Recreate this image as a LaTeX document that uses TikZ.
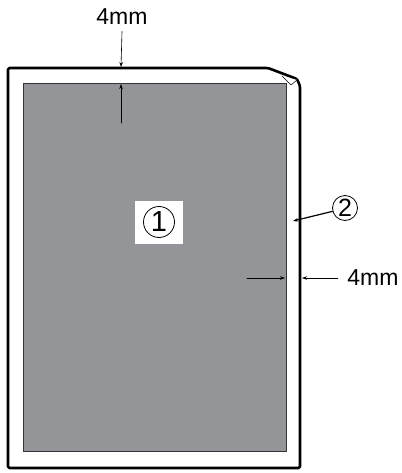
\documentclass[tikz,border=0pt]{standalone}
\usepackage{fontspec}
\setmainfont{Liberation Sans}
\usetikzlibrary{arrows.meta}
\definecolor{areagray}{rgb}{0.58,0.584,0.596}
\definecolor{edgegray}{rgb}{0.2,0.2,0.2}

\begin{document}
\begin{tikzpicture}[line cap=round,line join=round,x=1pt,y=-1pt,>={Stealth[length=5pt,width=3.5pt]}]
\useasboundingbox (0,0) rectangle (401,473);
% printable area
\draw [fill=areagray,draw=edgegray,line width=0.9pt] (23,83) rectangle (286,451);
% sheet with folded corner
\draw [line width=2.6pt,rounded corners=1.5pt] (8,68) -- (268,68) -- (297,79) -- (300,86) -- (300,468) -- (8,468) -- cycle;
\draw [fill=white,line width=0.5pt] (282,76) -- (291,85) -- (297,80);
% named points on the edges
\coordinate (sheettop) at (121,67);
\coordinate (areatop) at (121,84);
\coordinate (sheetright) at (302,278);
\coordinate (arearight) at (285,278);
\coordinate (gap) at (293,221);
% labels
\node (topmm) at (122,17) {\fontsize{23}{26}\selectfont 4mm};
\node (rightmm) at (373,278) {\fontsize{23}{26}\selectfont 4mm};
\node [fill=white,minimum width=48,minimum height=43] (areabox) at (159,222) {};
\node [draw,circle,line width=0.8pt,minimum size=31,inner sep=0pt] (areanum) at (areabox) {\fontsize{29}{29}\selectfont 1};
\node [draw,circle,line width=0.8pt,minimum size=25,inner sep=0pt] (sheetnum) at (345,208) {\fontsize{25}{25}\selectfont 2};
% dimension arrows
\draw [->,line width=0.6pt] (topmm.south) ++(0,3) -- (sheettop);
\draw [->,line width=0.6pt] (121,123) -- (areatop);
\draw [->,line width=0.6pt] (247,278) -- (arearight);
\draw [->,line width=0.6pt] (rightmm.west) ++(-6,0) -- (sheetright);
\draw [->,line width=1.2pt] (sheetnum.195) -- (gap);
\end{tikzpicture}
\end{document}
